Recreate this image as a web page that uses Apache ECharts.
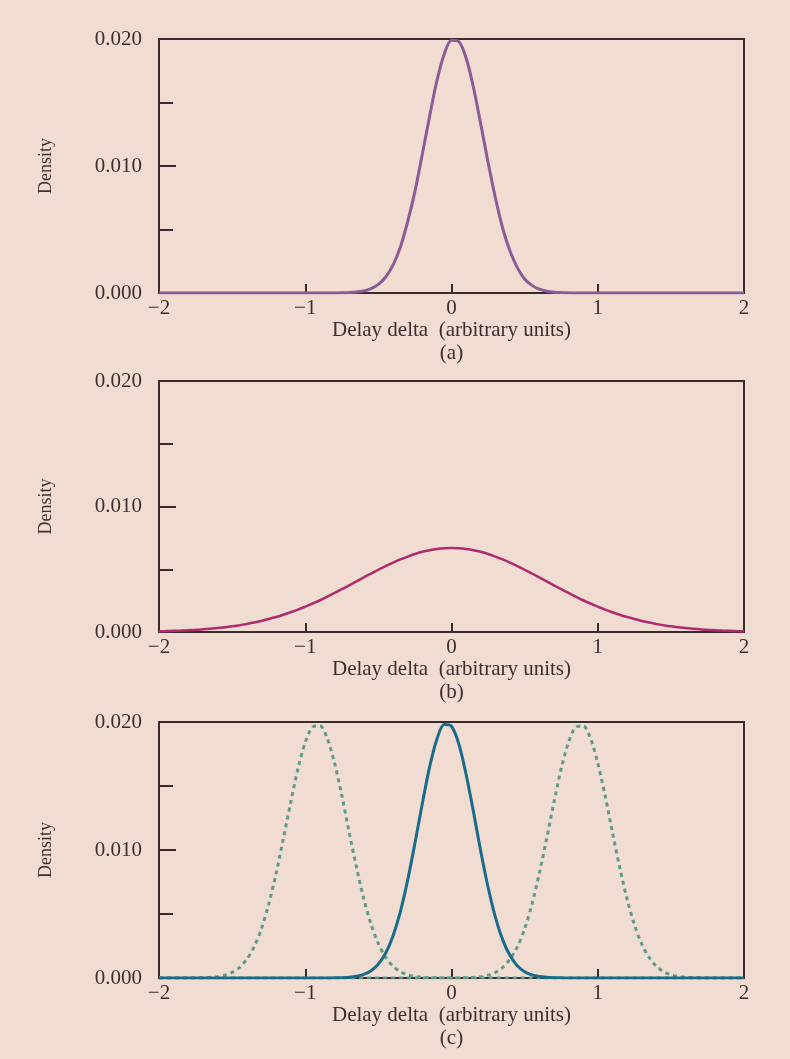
<!DOCTYPE html>
<html>
<head>
<meta charset="utf-8">
<script src="https://cdn.jsdelivr.net/npm/echarts@6/dist/echarts.min.js"></script>
<style>
  html, body { margin: 0; padding: 0; background: #f0dcd1; }
  #main { width: 790px; height: 1059px; }
</style>
</head>
<body>
<div id="main"></div>
<script>
// x positions (arbitrary units), -2 .. 2 every 0.05
var delayDelta = [
  -2.00, -1.95, -1.90, -1.85, -1.80, -1.75, -1.70, -1.65, -1.60, -1.55,
  -1.50, -1.45, -1.40, -1.35, -1.30, -1.25, -1.20, -1.15, -1.10, -1.05,
  -1.00, -0.95, -0.90, -0.85, -0.80, -0.75, -0.70, -0.65, -0.60, -0.55,
  -0.50, -0.45, -0.40, -0.35, -0.30, -0.25, -0.20, -0.15, -0.10, -0.05,
  0.00, 0.05, 0.10, 0.15, 0.20, 0.25, 0.30, 0.35, 0.40, 0.45,
  0.50, 0.55, 0.60, 0.65, 0.70, 0.75, 0.80, 0.85, 0.90, 0.95,
  1.00, 1.05, 1.10, 1.15, 1.20, 1.25, 1.30, 1.35, 1.40, 1.45,
  1.50, 1.55, 1.60, 1.65, 1.70, 1.75, 1.80, 1.85, 1.90, 1.95,
  2.00
];

// (a) narrow peak
var densityA = [
  0, 0, 0, 0, 0, 0, 0, 0, 0, 0,
  0, 0, 0, 0, 0, 0, 0, 0, 0, 0,
  0, 0, 0, 0, 0.000004, 0.00001, 0.00003, 0.00007, 0.00016, 0.00035,
  0.00068, 0.00126, 0.0022, 0.0036, 0.0056, 0.0080, 0.0109, 0.0139, 0.0167, 0.0188,
  0.0199, 0.0198, 0.0185, 0.0162, 0.0133, 0.0103, 0.0075, 0.0051, 0.0033, 0.0020,
  0.0011, 0.0006, 0.0003, 0.00014, 0.00006, 0.00003, 0.00001, 0, 0, 0,
  0, 0, 0, 0, 0, 0, 0, 0, 0, 0,
  0, 0, 0, 0, 0, 0, 0, 0, 0, 0,
  0
];

// (b) wide peak
var densityB = [
  0.00006, 0.00007, 0.00009, 0.00011, 0.00014, 0.00017, 0.00021, 0.00026, 0.00031, 0.00038,
  0.00045, 0.00054, 0.00064, 0.00075, 0.00088, 0.00103, 0.00119, 0.00137, 0.00157, 0.00178,
  0.00202, 0.00227, 0.00253, 0.00282, 0.00311, 0.00341, 0.00372, 0.00404, 0.00435, 0.00466,
  0.00496, 0.00525, 0.00553, 0.00578, 0.00601, 0.00622, 0.00639, 0.00652, 0.00662, 0.00668,
  0.0067, 0.00668, 0.00662, 0.00652, 0.00639, 0.00622, 0.00601, 0.00578, 0.00553, 0.00525,
  0.00496, 0.00466, 0.00435, 0.00404, 0.00372, 0.00341, 0.00311, 0.00282, 0.00253, 0.00227,
  0.00202, 0.00178, 0.00157, 0.00137, 0.00119, 0.00103, 0.00088, 0.00075, 0.00064, 0.00054,
  0.00045, 0.00038, 0.00031, 0.00026, 0.00021, 0.00017, 0.00014, 0.00011, 0.00009, 0.00007,
  0.00006
];

// (c) centre curve (solid)
var densityC = [
  0, 0, 0, 0, 0, 0, 0, 0, 0, 0,
  0, 0, 0, 0, 0, 0, 0, 0, 0, 0,
  0, 0, 0, 0.000003, 0.00001, 0.00002, 0.00005, 0.00013, 0.00028, 0.00057,
  0.00109, 0.00195, 0.00329, 0.00517, 0.00763, 0.01053, 0.0136, 0.01647, 0.01866, 0.0198,
  0.01967, 0.01829, 0.0159, 0.0130, 0.0099, 0.00709, 0.00476, 0.00298, 0.00175, 0.00096,
  0.00049, 0.00024, 0.00011, 0.00005, 0.00002, 0.00001, 0, 0, 0, 0,
  0, 0, 0, 0, 0, 0, 0, 0, 0, 0,
  0, 0, 0, 0, 0, 0, 0, 0, 0, 0,
  0
];

// (c) shifted curves (dotted)
var densityLeft = [
  0, 0, 0, 0.000001, 0.000003, 0.000008, 0.00002, 0.00005, 0.0001, 0.00022,
  0.00044, 0.00082, 0.00146, 0.00243, 0.00384, 0.00576, 0.00814, 0.01087, 0.0137, 0.01635,
  0.0184, 0.0196, 0.0197, 0.01873, 0.0168, 0.01427, 0.0114, 0.00866, 0.0062, 0.00419,
  0.00268, 0.00162, 0.00092, 0.0005, 0.00025, 0.00012, 0.00006, 0.00002, 0.00001, 0,
  0, 0, 0, 0, 0, 0, 0, 0, 0, 0,
  0, 0, 0, 0, 0, 0, 0, 0, 0, 0,
  0, 0, 0, 0, 0, 0, 0, 0, 0, 0,
  0, 0, 0, 0, 0, 0, 0, 0, 0, 0,
  0
];
var densityRight = [
  0, 0, 0, 0, 0, 0, 0, 0, 0, 0,
  0, 0, 0, 0, 0, 0, 0, 0, 0, 0,
  0, 0, 0, 0, 0, 0, 0, 0, 0, 0,
  0, 0, 0, 0, 0, 0, 0, 0, 0, 0.000001,
  0.000003, 0.000008, 0.00002, 0.00005, 0.0001, 0.00022, 0.00044, 0.00082, 0.00146, 0.00243,
  0.00384, 0.00576, 0.00814, 0.01087, 0.0137, 0.01635, 0.0184, 0.0196, 0.0197, 0.01873,
  0.0168, 0.01427, 0.0114, 0.00866, 0.0062, 0.00419, 0.00268, 0.00162, 0.00092, 0.0005,
  0.00025, 0.00012, 0.00006, 0.00002, 0.00001, 0, 0, 0, 0, 0,
  0
];

var yTicks = [0, 0.01, 0.02];
var xTicks = [-2, -1, 0, 1, 2];
var panelLabels = ["(a)", "(b)", "(c)"];

function pairs(ys) {
  return delayDelta.map(function (x, i) { return [x, ys[i]]; });
}

var fontFam = "'Liberation Serif', 'Times New Roman', serif";
var textColor = "#3a2f2f";
var axisColor = "#3a2c2c";

var grids = [
  { left: 159, top: 39, width: 585, height: 254 },
  { left: 159, top: 381, width: 585, height: 251 },
  { left: 159, top: 722, width: 585, height: 256 }
];

var xAxes = [], yAxes = [], graphics = [];
grids.forEach(function (g, i) {
  g.show = true;
  g.borderColor = axisColor;
  g.borderWidth = 2;
  g.backgroundColor = "transparent";
  xAxes.push({
    gridIndex: i,
    type: "value",
    min: xTicks[0],
    max: xTicks[xTicks.length - 1],
    interval: 1,
    name: "Delay delta  (arbitrary units)",
    nameLocation: "middle",
    nameGap: 27,
    nameTextStyle: { fontFamily: fontFam, fontSize: 21, color: textColor },
    axisLine: { show: false, onZero: false },
    axisTick: { show: true, inside: true, length: 9, lineStyle: { color: axisColor, width: 2 } },
    splitLine: { show: false },
    axisLabel: {
      fontFamily: fontFam, fontSize: 21, color: textColor, margin: 5,
      formatter: function (v) { return String(v).replace("-", "\u2212"); }
    }
  });
  yAxes.push({
    gridIndex: i,
    type: "value",
    min: yTicks[0],
    max: yTicks[yTicks.length - 1],
    interval: 0.01,
    name: "Density",
    nameLocation: "middle",
    nameGap: 104,
    nameTextStyle: { fontFamily: fontFam, fontSize: 18, color: textColor },
    axisLine: { show: false, onZero: false },
    axisTick: { show: true, inside: true, length: 17, lineStyle: { color: axisColor, width: 2 } },
    minorTick: { show: true, splitNumber: 2, length: 14, lineStyle: { color: axisColor, width: 2 } },
    splitLine: { show: false },
    axisLabel: {
      fontFamily: fontFam, fontSize: 21, color: textColor, margin: 17,
      formatter: function (v) { return v.toFixed(3); }
    }
  });
  graphics.push({
    type: "text",
    x: g.left + g.width / 2,
    y: g.top + g.height + 60,
    style: {
      text: panelLabels[i],
      font: "21px " + fontFam,
      fill: textColor,
      textAlign: "center",
      textVerticalAlign: "middle"
    }
  });
});

var chart = echarts.init(document.getElementById("main"));
chart.setOption({
  backgroundColor: "#f0dcd1",
  animation: false,
  grid: grids,
  xAxis: xAxes,
  yAxis: yAxes,
  graphic: graphics,
  series: [
    {
      type: "line", xAxisIndex: 0, yAxisIndex: 0, data: pairs(densityA),
      smooth: 0.3, showSymbol: false, lineStyle: { color: "#8a5b97", width: 3 }
    },
    {
      type: "line", xAxisIndex: 1, yAxisIndex: 1, data: pairs(densityB),
      smooth: 0.3, showSymbol: false, lineStyle: { color: "#b02a6f", width: 2.5 }
    },
    {
      type: "line", xAxisIndex: 2, yAxisIndex: 2, data: pairs(densityLeft),
      smooth: 0.3, showSymbol: false, lineStyle: { color: "#5e9a8b", width: 3, type: [4, 4] }
    },
    {
      type: "line", xAxisIndex: 2, yAxisIndex: 2, data: pairs(densityRight),
      smooth: 0.3, showSymbol: false, lineStyle: { color: "#5e9a8b", width: 3, type: [4, 4] }
    },
    {
      type: "line", xAxisIndex: 2, yAxisIndex: 2, data: pairs(densityC),
      smooth: 0.3, showSymbol: false, lineStyle: { color: "#1a6b8a", width: 3 }
    }
  ]
});
</script>
</body>
</html>
